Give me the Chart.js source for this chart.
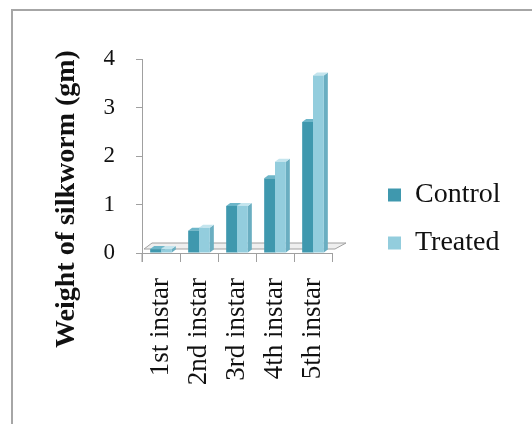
<!DOCTYPE html>
<html>
<head>
<meta charset="utf-8">
<script src="https://cdn.jsdelivr.net/npm/chart.js@4.4.1/dist/chart.umd.min.js"></script>
<style>
  html, body { margin: 0; padding: 0; background: #fff; overflow: hidden; width: 532px; height: 424px; }
  #frame { position: absolute; left: 11px; top: 9px; width: 640px; height: 520px;
           border-left: 2px solid #a6a6a6; border-top: 2px solid #a6a6a6; }
  #wrap { position: absolute; left: 0; top: 0; width: 532px; height: 424px; }
</style>
</head>
<body>
<div id="frame"></div>
<div id="wrap"><canvas id="c" width="532" height="424"></canvas></div>
<script>
// Larval stages and mean body weight (g) per stage
const categories = ['1st instar', '2nd instar', '3rd instar', '4th instar', '5th instar'];
const controlWeights = [0.08, 0.46, 0.97, 1.54, 2.70];
const treatedWeights = [0.08, 0.52, 0.97, 1.88, 3.66];
const yTicks = [0, 1, 2, 3, 4];
const axisTitle = 'Weight of silkworm (gm)';

const SERIF = '"Liberation Serif", "Times New Roman", serif';
const AXIS_GREY = '#a0a0a0';

// face colours: front, side, top
const shades = [
  { front: '#3f98ae', side: '#2b6f80', top: '#6db6c9' },
  { front: '#93cddd', side: '#6aaec1', top: '#c4e5ee' }
];

// Floor slab and the side/top faces that give the columns depth
const depthFaces = {
  id: 'depthFaces',
  beforeDatasetsDraw(chart) {
    const ctx = chart.ctx;
    const { left, right, bottom } = chart.chartArea;
    ctx.save();
    // floor
    ctx.beginPath();
    ctx.moveTo(left + 2, bottom - 4);
    ctx.lineTo(right + 3, bottom - 4);
    ctx.lineTo(right + 14, bottom - 10);
    ctx.lineTo(left + 10, bottom - 10);
    ctx.closePath();
    ctx.fillStyle = '#efefef';
    ctx.fill();
    ctx.strokeStyle = AXIS_GREY;
    ctx.lineWidth = 1;
    ctx.stroke();
    // value axis runs on a little below the floor line
    ctx.beginPath();
    ctx.moveTo(left, bottom);
    ctx.lineTo(left, bottom + 9);
    ctx.stroke();
    // faces
    const dx = 4, dy = 3;
    chart.data.datasets.forEach((ds, di) => {
      const meta = chart.getDatasetMeta(di);
      meta.data.forEach(el => {
        const { x, y, base, width } = el.getProps(['x', 'y', 'base', 'width'], true);
        const l = x - width / 2, r = x + width / 2;
        ctx.fillStyle = shades[di].side;
        ctx.beginPath();
        ctx.moveTo(r, y); ctx.lineTo(r + dx, y - dy);
        ctx.lineTo(r + dx, base - dy); ctx.lineTo(r, base);
        ctx.closePath(); ctx.fill();
        ctx.fillStyle = shades[di].top;
        ctx.beginPath();
        ctx.moveTo(l, y); ctx.lineTo(l + dx, y - dy);
        ctx.lineTo(r + dx, y - dy); ctx.lineTo(r, y);
        ctx.closePath(); ctx.fill();
      });
    });
    ctx.restore();
  }
};

// Rotated value-axis title, centred on the plot plus its category labels
const sideTitle = {
  id: 'sideTitle',
  afterDraw(chart) {
    const ctx = chart.ctx;
    ctx.save();
    ctx.translate(67, 199);
    ctx.rotate(-Math.PI / 2);
    ctx.font = 'bold 28px ' + SERIF;
    ctx.fillStyle = '#111';
    ctx.textAlign = 'center';
    ctx.textBaseline = 'middle';
    ctx.fillText(axisTitle, 0, 0);
    ctx.restore();
  }
};

// Legend sits a little away from the plot, centred beside it
const LEGEND_W = 200;
const legendPlace = {
  id: 'legendPlace',
  beforeLayout(chart) {
    const lg = chart.legend;
    if (lg && !lg._fixedWidth) {
      const fit = lg.fit;
      lg.fit = function () { fit.call(this); this.width = LEGEND_W; };
      lg._fixedWidth = true;
    }
  },
  afterLayout(chart) {
    const lg = chart.legend;
    lg.left = chart.chartArea.right + 36;
    lg.top = 59;
    lg.bottom = 379;
  }
};

new Chart(document.getElementById('c'), {
  type: 'bar',
  data: {
    labels: categories,
    datasets: [
      { label: 'Control', data: controlWeights, backgroundColor: shades[0].front, borderWidth: 0 },
      { label: 'Treated', data: treatedWeights, backgroundColor: shades[1].front, borderWidth: 0 }
    ]
  },
  options: {
    responsive: false,
    animation: false,
    devicePixelRatio: 1,
    categoryPercentage: 0.57,
    barPercentage: 1.0,
    layout: { padding: { left: 80, top: 59, right: 0, bottom: 0 } },
    plugins: {
      tooltip: { enabled: false },
      legend: {
        position: 'right',
        labels: {
          boxWidth: 13, boxHeight: 13, padding: 20,
          color: '#111',
          font: { family: SERIF, size: 28 }
        }
      }
    },
    scales: {
      x: {
        grid: { display: true, offset: true, drawOnChartArea: false, drawTicks: true,
                tickLength: 9, color: AXIS_GREY },
        border: { display: true, color: AXIS_GREY, width: 1 },
        ticks: { minRotation: 90, maxRotation: 90, autoSkip: false, padding: 16,
                 color: '#111', font: { family: SERIF, size: 27 } },
        afterFit(s) { s.height = 171; }
      },
      y: {
        min: 0, max: 4,
        afterBuildTicks(s) { s.ticks = yTicks.map(v => ({ value: v })); },
        grid: { display: true, drawOnChartArea: false, drawTicks: true, tickLength: 6, color: AXIS_GREY },
        border: { display: true, color: AXIS_GREY, width: 1 },
        ticks: { padding: 21, color: '#111', font: { family: SERIF, size: 23 } },
        afterFit(s) { s.width = 62; }
      }
    }
  },
  plugins: [depthFaces, sideTitle, legendPlace]
});
</script>
</body>
</html>
